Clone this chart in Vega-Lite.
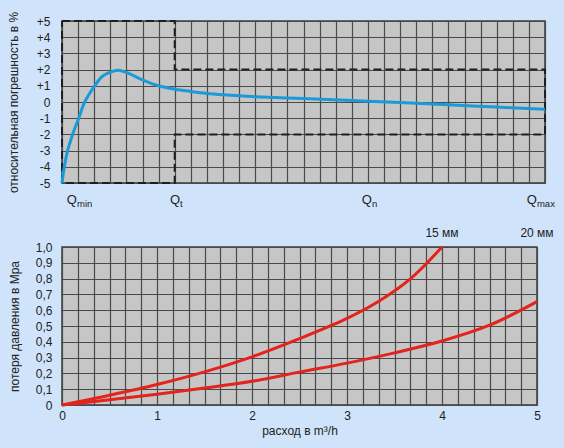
{
  "$schema": "https://vega.github.io/schema/vega-lite/v6.json",
  "background": "#cfe4fa",
  "padding": {"left": 6, "top": 10, "right": 20, "bottom": 15},
  "config": {
    "font": "Liberation Sans",
    "view": {"fill": "#c6c6c6", "stroke": "#3a3a3a", "strokeWidth": 1.5},
    "axis": {
      "gridColor": "#4a4a4a", "gridWidth": 1.2, "gridOpacity": 1,
      "domain": false, "ticks": false,
      "labelFontSize": 12, "labelColor": "#222222",
      "titleFontSize": 12, "titleFontWeight": "normal", "titleColor": "#222222",
      "labelOverlap": false, "labelFlush": false
    },
    "concat": {"spacing": 16}
  },
  "datasets": {
    "error": [
      {"q": 0, "err": -5}, {"q": 0.145, "err": -4}, {"q": 0.35, "err": -3},
      {"q": 0.66, "err": -2}, {"q": 1.04, "err": -1}, {"q": 1.41, "err": 0},
      {"q": 2.03, "err": 1}, {"q": 2.48, "err": 1.56}, {"q": 3, "err": 1.84},
      {"q": 3.48, "err": 1.96}, {"q": 4, "err": 1.83}, {"q": 4.5, "err": 1.6},
      {"q": 5, "err": 1.37}, {"q": 6, "err": 1.0}, {"q": 7, "err": 0.79},
      {"q": 8, "err": 0.65}, {"q": 9, "err": 0.53}, {"q": 10, "err": 0.45},
      {"q": 12, "err": 0.33}, {"q": 15, "err": 0.21}, {"q": 18, "err": 0.09},
      {"q": 21, "err": -0.03}, {"q": 24, "err": -0.17}, {"q": 27, "err": -0.31},
      {"q": 30, "err": -0.45}
    ],
    "limits": [
      {"i": 1, "q": 0, "err": 5}, {"i": 2, "q": 7, "err": 5}, {"i": 3, "q": 7, "err": 2},
      {"i": 4, "q": 30, "err": 2}, {"i": 5, "q": 30, "err": -2}, {"i": 6, "q": 7, "err": -2},
      {"i": 7, "q": 7, "err": -5}, {"i": 8, "q": 0, "err": -5}, {"i": 9, "q": 0, "err": 5}
    ],
    "qlabels": [
      {"q": 0.93, "err": -5, "main": "Q", "sub": "min"},
      {"q": 7.33, "err": -5, "main": "Q", "sub": "t"},
      {"q": 19.25, "err": -5, "main": "Q", "sub": "n"},
      {"q": 29.5, "err": -5, "main": "Q", "sub": "max"}
    ],
    "loss": [
      {"size": "15 мм", "flow": 0, "loss": 0}, {"size": "15 мм", "flow": 0.5, "loss": 0.062},
      {"size": "15 мм", "flow": 1, "loss": 0.13}, {"size": "15 мм", "flow": 1.5, "loss": 0.21},
      {"size": "15 мм", "flow": 2, "loss": 0.305}, {"size": "15 мм", "flow": 2.5, "loss": 0.42},
      {"size": "15 мм", "flow": 3, "loss": 0.548}, {"size": "15 мм", "flow": 3.33, "loss": 0.655},
      {"size": "15 мм", "flow": 3.67, "loss": 0.8}, {"size": "15 мм", "flow": 4, "loss": 1.0},
      {"size": "20 мм", "flow": 0, "loss": 0}, {"size": "20 мм", "flow": 0.5, "loss": 0.033},
      {"size": "20 мм", "flow": 1, "loss": 0.068}, {"size": "20 мм", "flow": 1.5, "loss": 0.107},
      {"size": "20 мм", "flow": 2, "loss": 0.15}, {"size": "20 мм", "flow": 2.5, "loss": 0.208},
      {"size": "20 мм", "flow": 3, "loss": 0.265}, {"size": "20 мм", "flow": 3.5, "loss": 0.33},
      {"size": "20 мм", "flow": 4, "loss": 0.405}, {"size": "20 мм", "flow": 4.5, "loss": 0.505},
      {"size": "20 мм", "flow": 5, "loss": 0.654}
    ],
    "sizes": [
      {"size": "15 мм", "flow": 4, "loss": 1},
      {"size": "20 мм", "flow": 5, "loss": 1}
    ]
  },
  "vconcat": [
    {
      "width": 483,
      "height": 162,
      "encoding": {
        "x": {
          "field": "q", "type": "quantitative",
          "scale": {"domain": [0, 30], "nice": false},
          "axis": {"values": [0,1,2,3,4,5,6,7,8,9,10,11,12,13,14,15,16,17,18,19,20,21,22,23,24,25,26,27,28,29,30], "labels": false, "title": null}
        },
        "y": {
          "field": "err", "type": "quantitative",
          "scale": {"domain": [-5, 5], "nice": false},
          "axis": {
            "values": [-5,-4,-3,-2,-1,0,1,2,3,4,5],
            "labelExpr": "datum.value > 0 ? '+' + datum.value : '' + datum.value",
            "labelPadding": 12,
            "title": "относительная погрешность в %",
            "titlePadding": 16
          }
        }
      },
      "layer": [
        {
          "data": {"name": "limits"},
          "mark": {"type": "line", "color": "#1e1e1e", "strokeWidth": 2, "strokeDash": [8, 4]},
          "encoding": {"order": {"field": "i", "type": "quantitative"}}
        },
        {
          "data": {"name": "error"},
          "mark": {"type": "line", "color": "#1a9ad8", "strokeWidth": 3, "interpolate": "catmull-rom"}
        },
        {
          "data": {"name": "qlabels"},
          "mark": {"type": "text", "align": "right", "baseline": "middle", "dy": 17, "fontSize": 13, "fill": "#222222"},
          "encoding": {"text": {"field": "main", "type": "nominal"}}
        },
        {
          "data": {"name": "qlabels"},
          "mark": {"type": "text", "align": "left", "baseline": "middle", "dy": 21, "fontSize": 9.5, "fill": "#222222"},
          "encoding": {"text": {"field": "sub", "type": "nominal"}}
        }
      ]
    },
    {
      "width": 475,
      "height": 158,
      "encoding": {
        "x": {
          "field": "flow", "type": "quantitative",
          "scale": {"domain": [0, 5], "nice": false},
          "axis": {
            "values": [0,0.1667,0.3333,0.5,0.6667,0.8333,1,1.1667,1.3333,1.5,1.6667,1.8333,2,2.1667,2.3333,2.5,2.6667,2.8333,3,3.1667,3.3333,3.5,3.6667,3.8333,4,4.1667,4.3333,4.5,4.6667,4.8333,5],
            "labelExpr": "abs(datum.value - round(datum.value)) < 0.01 ? '' + round(datum.value) : ''",
            "labelPadding": 5,
            "title": "расход в m³/h",
            "titlePadding": 4
          }
        },
        "y": {
          "field": "loss", "type": "quantitative",
          "scale": {"domain": [0, 1], "nice": false},
          "axis": {
            "values": [0,0.1,0.2,0.3,0.4,0.5,0.6,0.7,0.8,0.9,1],
            "labelExpr": "datum.value == 0 ? '0' : replace(format(datum.value, '.1f'), '.', ',')",
            "labelPadding": 10,
            "title": "потеря давления в Мра",
            "titlePadding": 14
          }
        }
      },
      "layer": [
        {
          "data": {"name": "loss"},
          "mark": {"type": "line", "color": "#e3231c", "strokeWidth": 3, "interpolate": "catmull-rom"},
          "encoding": {"detail": {"field": "size", "type": "nominal"}}
        },
        {
          "data": {"name": "sizes"},
          "mark": {"type": "text", "align": "center", "baseline": "middle", "dy": -14, "fontSize": 12, "fill": "#222222"},
          "encoding": {"text": {"field": "size", "type": "nominal"}}
        }
      ]
    }
  ]
}
